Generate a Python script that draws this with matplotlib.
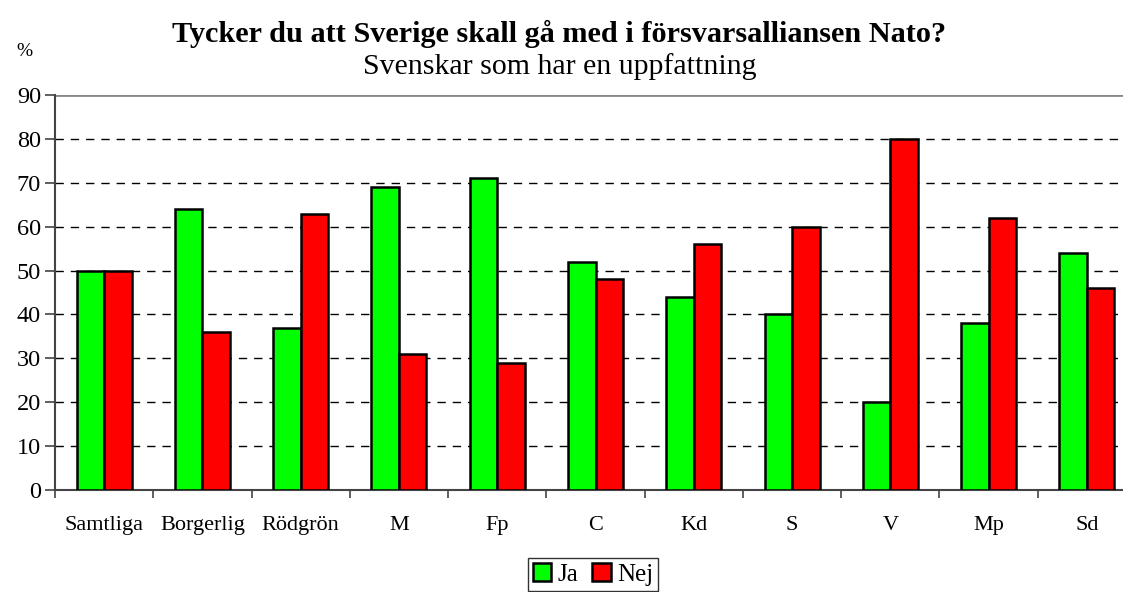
import matplotlib
matplotlib.use("Agg")
import matplotlib.pyplot as plt
import numpy as np

categories = ["Samtliga", "Borgerlig", "Rödgrön", "M", "Fp", "C", "Kd", "S", "V", "Mp", "Sd"]
ja = [50, 64, 37, 69, 71, 52, 44, 40, 20, 38, 54]
nej = [50, 36, 63, 31, 29, 48, 56, 60, 80, 62, 46]
yticks = [0, 10, 20, 30, 40, 50, 60, 70, 80, 90]

plt.rcParams['font.family'] = ['Liberation Serif', 'DejaVu Serif']

W, H = 1123, 592
fig = plt.figure(figsize=(W / 100, H / 100), dpi=100)
left, right, top, bottom = 55, 1136, 95, 490
ax = fig.add_axes([left / W, 1 - bottom / H, (right - left) / W, (bottom - top) / H])

x = np.arange(len(categories))
bw = 0.28
ax.bar(x - bw / 2, ja, width=bw, color="#00ff00", edgecolor="black", linewidth=1.8, label="Ja", zorder=3)
ax.bar(x + bw / 2, nej, width=bw, color="#ff0000", edgecolor="black", linewidth=1.8, label="Nej", zorder=3)

ax.set_xlim(-0.5, len(categories) - 0.5)
ax.set_ylim(0, 90)
ax.set_yticks(yticks)
ax.set_yticklabels([str(v) for v in yticks], fontsize=17.5)
for v in yticks[1:-1]:
    ax.axhline(v, color="black", linewidth=1.0, linestyle=(0, (6, 5)), zorder=1)
ax.axhline(90, color="#888888", linewidth=2, zorder=1)

ax.set_xticks(np.arange(len(categories) + 1) - 0.5, minor=False)
ax.set_xticklabels([])
ax.set_xticks(x, minor=True)
ax.set_xticklabels(categories, minor=True, fontsize=16)
ax.tick_params(axis="x", which="minor", length=0, pad=19)
ax.tick_params(axis="x", which="major", length=6, width=1.2, direction="out", color="#444444")
ax.tick_params(axis="y", length=7, width=1.2, direction="out", color="#444444", pad=3)

for s in ["top", "right"]:
    ax.spines[s].set_visible(False)
for s in ["left", "bottom"]:
    ax.spines[s].set_color("#444444")
    ax.spines[s].set_linewidth(1.5)

fig.text(559 / W, 1 - 42 / H, "Tycker du att Sverige skall gå med i försvarsalliansen Nato?",
         ha="center", va="baseline", fontsize=21.8, fontweight="bold")
fig.text(560 / W, 1 - 74 / H, "Svenskar som har en uppfattning", ha="center", va="baseline", fontsize=21.5)
fig.text(24 / W, 1 - 52 / H, "%", ha="center", va="center", fontsize=14)

leg = fig.legend(loc="upper center", bbox_to_anchor=(593 / W, 1 - 558 / H), ncol=2, fontsize=18,
                 frameon=True, fancybox=False, edgecolor="black", handlelength=0.75, handleheight=0.75,
                 handletextpad=0.25, columnspacing=0.55, borderpad=0.2, borderaxespad=0)
leg.get_frame().set_linewidth(1.0)

fig.savefig("out.png", dpi=100)
